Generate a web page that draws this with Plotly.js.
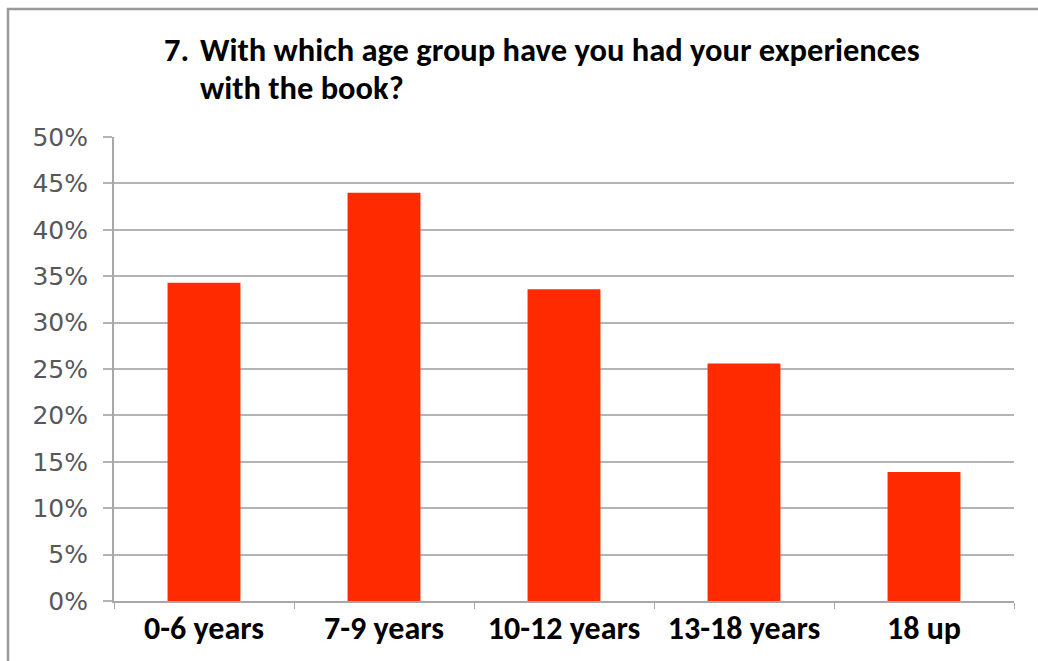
<!DOCTYPE html>
<html>
<head>
<meta charset="utf-8">
<script src="https://cdn.plot.ly/plotly-3.0.1.min.js"></script>
<style>html,body{margin:0;padding:0;background:#fff;}#chart{width:1038px;height:661px;}</style>
</head>
<body>
<div id="chart"></div>
<script>
const categories = ["0-6 years", "7-9 years", "10-12 years", "13-18 years", "18 up"];
const values = [0.343, 0.440, 0.336, 0.256, 0.139];
const yTickVals = [0, 0.05, 0.10, 0.15, 0.20, 0.25, 0.30, 0.35, 0.40, 0.45, 0.50];
const yTickText = ["0%", "5%", "10%", "15%", "20%", "25%", "30%", "35%", "40%", "45%", "50%"];
const titleNumber = "7.";
const titleLine1 = "With which age group have you had your experiences";
const titleLine2 = "with the book?";

const L = 114, R = 24, T = 137, B = 60, W = 1038, H = 661;
const pw = W - L - R, ph = H - T - B;
const px = v => (v - L) / pw;
const py = v => (H - B - v) / ph;

const titleFont = {family: "Carlito, 'Open Sans', sans-serif", size: 32.5, color: "#000", weight: "bold"};

Plotly.newPlot("chart", [{
  type: "bar",
  x: categories,
  y: values,
  marker: {color: "#ff2a00", line: {width: 0}},
  hoverinfo: "x+y"
}], {
  width: W, height: H,
  margin: {l: L, r: R, t: T, b: B},
  paper_bgcolor: "#fff",
  plot_bgcolor: "#fff",
  bargap: 0.595,
  showlegend: false,
  xaxis: {
    type: "category",
    showgrid: false,
    showline: true, linecolor: "#a8a8a8", linewidth: 2,
    ticks: "outside", tickson: "boundaries", ticklen: 6, tickcolor: "#a8a8a8", tickwidth: 1,
    tickfont: {family: "Carlito, 'Open Sans', sans-serif", size: 32, color: "#000", weight: "bold"},
    ticklabelstandoff: -2,
    range: [-0.5, 4.5],
    zeroline: false
  },
  yaxis: {
    range: [0, 0.5],
    tickvals: yTickVals, ticktext: yTickText,
    showgrid: true, gridcolor: "#b4b4b4", gridwidth: 2,
    showline: true, linecolor: "#a8a8a8", linewidth: 2,
    ticks: "outside", ticklen: 9, tickcolor: "#b4b4b4", tickwidth: 2,
    tickfont: {family: "'DejaVu Sans', Verdana, sans-serif", size: 25, color: "#585858"},
    ticklabelstandoff: 10,
    zeroline: false
  },
  shapes: [{
    type: "rect", xref: "paper", yref: "paper",
    x0: px(8), x1: px(1060), y0: py(680), y1: py(9),
    line: {color: "#9a9a9a", width: 2.5}, fillcolor: "rgba(0,0,0,0)", layer: "below"
  }],
  annotations: [
    {text: titleNumber, xref: "paper", yref: "paper", x: px(162), y: py(50), xanchor: "left", yanchor: "middle",
     showarrow: false, font: titleFont},
    {text: titleLine1, xref: "paper", yref: "paper", x: px(198), y: py(50), xanchor: "left", yanchor: "middle",
     showarrow: false, font: titleFont},
    {text: titleLine2, xref: "paper", yref: "paper", x: px(198), y: py(88), xanchor: "left", yanchor: "middle",
     showarrow: false, font: titleFont}
  ]
}, {displayModeBar: false});
</script>
</body>
</html>
